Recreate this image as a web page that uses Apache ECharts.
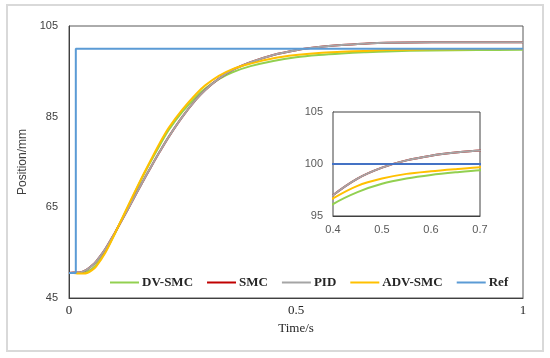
<!DOCTYPE html>
<html>
<head>
<meta charset="utf-8">
<script src="https://cdn.jsdelivr.net/npm/echarts@6/dist/echarts.min.js"></script>
<style>html,body{margin:0;padding:0;background:#fff}#c{width:550px;height:358px}</style>
</head>
<body>
<div id="c"></div>
<script>
// time samples (s)
var time = [0, 0.01, 0.02, 0.03, 0.04, 0.05, 0.06, 0.08, 0.1, 0.12, 0.14, 0.16, 0.18, 0.2, 0.22, 0.25, 0.28, 0.3, 0.33, 0.36, 0.4, 0.45, 0.5, 0.55, 0.6, 0.65, 0.7, 0.8, 0.9, 1.0];
var dvSmc  = [50.5, 50.5, 50.5, 50.6, 50.8, 51.4, 52.3, 55.2, 59.0, 63.1, 67.2, 71.3, 75.1, 78.7, 82.1, 86.1, 89.4, 91.2, 93.3, 94.8, 96.15, 97.3, 98.1, 98.6, 98.95, 99.2, 99.4, 99.6, 99.7, 99.75];
var smc    = [50.5, 50.6, 50.6, 50.8, 51.3, 52.1, 53.1, 55.8, 59.2, 62.8, 66.5, 70.2, 73.8, 77.3, 80.6, 85.0, 88.8, 90.9, 93.4, 95.3, 97.0, 98.6, 99.65, 100.35, 100.8, 101.1, 101.3, 101.4, 101.4, 101.4];
var pid    = [50.5, 50.6, 50.6, 50.8, 51.3, 52.1, 53.1, 55.8, 59.2, 62.8, 66.5, 70.2, 73.8, 77.3, 80.6, 85.0, 88.8, 90.9, 93.4, 95.3, 97.0, 98.6, 99.65, 100.35, 100.8, 101.1, 101.3, 101.4, 101.4, 101.4];
var advSmc = [50.5, 50.5, 50.4, 50.4, 50.5, 51.1, 52.0, 55.0, 59.0, 63.2, 67.4, 71.5, 75.4, 79.2, 82.6, 86.6, 90.0, 91.9, 94.0, 95.5, 96.7, 97.9, 98.6, 99.05, 99.3, 99.5, 99.68, 99.85, 99.92, 99.95];
var refTime = [0, 0.015, 0.015, 1];
var ref     = [50.5, 50.5, 100, 100];
var mainYTicks = [45, 65, 85, 105];
var mainXTicks = [0, 0.5, 1];
var insetYTicks = [95, 100, 105];
var insetXTicks = [0.4, 0.5, 0.6, 0.7];

function pairs(t, v) { return t.map(function (x, i) { return [x, v[i]]; }); }

var names = ['DV-SMC', 'SMC', 'PID', 'ADV-SMC', 'Ref'];
var colors = ['#92D050', '#C00000', '#A5A5A5', '#FFC000', '#5B9BD5'];
var datas = [pairs(time, dvSmc), pairs(time, smc), pairs(time, pid), pairs(time, advSmc), pairs(refTime, ref)];

var series = [];
[0, 1].forEach(function (g) {
  names.forEach(function (n, i) {
    var col = colors[i];
    if (g === 1 && i === 4) col = '#4472C4';
    series.push({
      name: n, type: 'line', xAxisIndex: g, yAxisIndex: g,
      data: datas[i], showSymbol: false, symbol: 'none',
      smooth: i === 4 ? false : 0.3,
      clip: true, animation: false,
      lineStyle: { color: col, width: 2 }, itemStyle: { color: col },
      z: (g === 1 ? 20 : 2) + i
    });
  });
});

var chart = echarts.init(document.getElementById('c'), null, { renderer: 'canvas' });
chart.setOption({
  animation: false,
  backgroundColor: '#fff',
  graphic: [{
    type: 'rect', shape: { x: 7, y: 5, width: 536, height: 346 },
    style: { fill: 'none', stroke: '#D9D9D9', lineWidth: 2 }, z: 0
  }],
  legend: {
    data: names, left: 105, top: 271, itemGap: 14, itemWidth: 29, itemHeight: 2,
    icon: 'rect',
    textStyle: { fontFamily: 'Liberation Serif', fontSize: 13, color: '#262626', fontWeight: 'bold', padding: [0, 0, 0, -2] }
  },
  grid: [
    { left: 69, right: 27, top: 26, bottom: 60, show: true, borderColor: '#595959', borderWidth: 1, backgroundColor: 'transparent' },
    { left: 333, top: 112, width: 147, height: 104, show: true, borderColor: '#404040', borderWidth: 1, backgroundColor: '#fff', z: 10 }
  ],
  xAxis: [
    {
      type: 'value', gridIndex: 0, min: 0, max: 1, interval: 0.5,
      name: 'Time/s', nameLocation: 'middle', nameGap: 22,
      nameTextStyle: { fontFamily: 'Liberation Serif', fontSize: 13, color: '#262626' },
      axisLine: { show: true, lineStyle: { color: '#404040', width: 1 } },
      axisTick: { show: false }, splitLine: { show: false },
      axisLabel: { margin: 6, fontFamily: 'Liberation Serif', fontSize: 13, color: '#262626',
        formatter: function (v) { return mainXTicks.indexOf(v) >= 0 ? String(v) : ''; } }
    },
    {
      type: 'value', gridIndex: 1, min: 0.4, max: 0.7, interval: 0.1,
      axisLine: { show: true, lineStyle: { color: '#404040', width: 1 } },
      axisTick: { show: false }, splitLine: { show: false },
      axisLabel: { margin: 8, fontFamily: 'Liberation Sans', fontSize: 11, color: '#595959',
        formatter: function (v) { var r = Math.round(v * 10) / 10; return insetXTicks.indexOf(r) >= 0 ? r.toFixed(1) : ''; } }
    }
  ],
  yAxis: [
    {
      type: 'value', gridIndex: 0, min: 45, max: 105, interval: 20,
      name: 'Position/mm', nameLocation: 'middle', nameGap: 27,
      nameTextStyle: { fontFamily: 'Liberation Sans', fontSize: 12, color: '#404040' },
      axisLine: { show: true, lineStyle: { color: '#404040', width: 1 } },
      axisTick: { show: false }, splitLine: { show: false },
      axisLabel: { margin: 11, fontFamily: 'Liberation Sans', fontSize: 11, color: '#404040',
        formatter: function (v) { return mainYTicks.indexOf(v) >= 0 ? String(v) : ''; } }
    },
    {
      type: 'value', gridIndex: 1, min: 95, max: 105, interval: 5,
      axisLine: { show: true, lineStyle: { color: '#404040', width: 1 } },
      axisTick: { show: false }, splitLine: { show: false },
      axisLabel: { margin: 10, fontFamily: 'Liberation Sans', fontSize: 11, color: '#595959',
        formatter: function (v) { return insetYTicks.indexOf(v) >= 0 ? String(v) : ''; } }
    }
  ],
  series: series
});
</script>
</body>
</html>
